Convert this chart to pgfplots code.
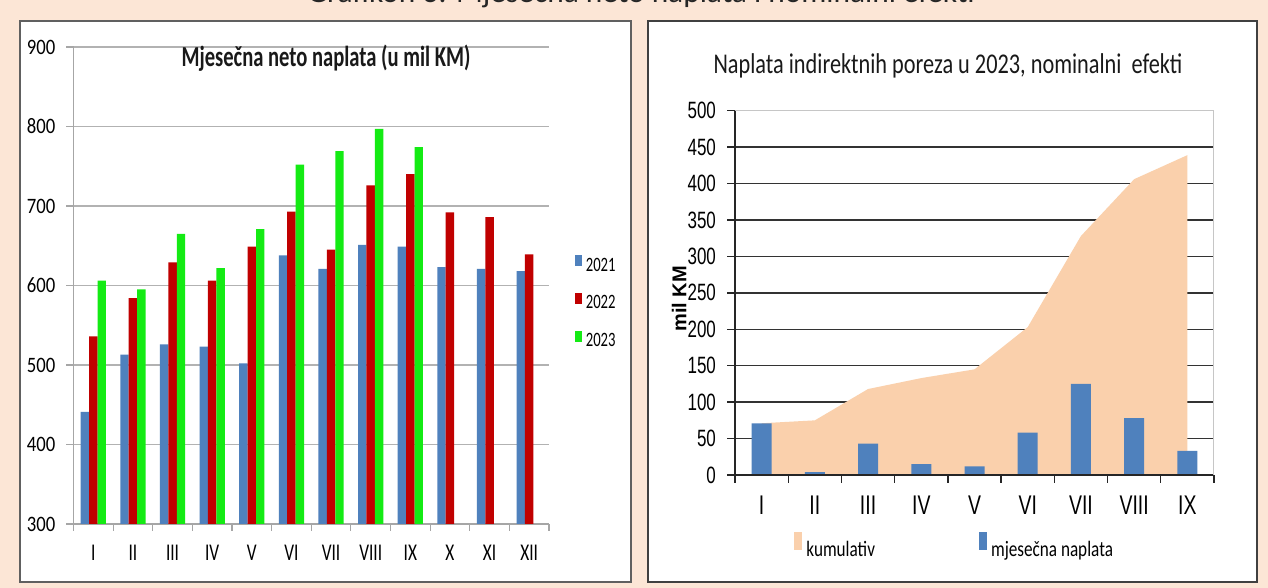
\documentclass[border=0pt]{standalone}
\usepackage{fontspec}
\usepackage{pgfplots}
\usepackage{pgfplotstable}
\pgfplotsset{compat=1.18}
\setmainfont{Carlito}
\newfontfamily\lfont[FakeStretch=0.85]{Carlito}
\newfontfamily\ltitle[FakeStretch=0.71]{Carlito}
\newfontfamily\lnarrow[FakeStretch=0.72]{Carlito}
\newfontfamily\rfont[FakeStretch=0.78]{Carlito}
\newfontfamily\rarial[FakeStretch=0.72]{Liberation Sans}
\newfontfamily\arialb{Liberation Sans}

\definecolor{bgpeach}{RGB}{252,230,214}
\definecolor{areapeach}{RGB}{250,208,172}
\definecolor{xlblue}{RGB}{79,129,189}
\definecolor{xlred}{RGB}{192,0,0}
\definecolor{xlgreen}{RGB}{20,235,20}

% monthly net collection, mil KM
\pgfplotstableread{
m y2021 y2022 y2023
1 441 536 606
2 513 584 595
3 526 629 665
4 523 606 622
5 502 649 671
6 638 693 752
7 621 645 769
8 651 726 797
9 649 740 774
10 623 692 nan
11 621 686 nan
12 618 639 nan
}\monthly

% 2023 nominal effects: monthly and cumulative
\pgfplotstableread{
m mon cum
1 71 71
2 4 75
3 43 118
4 15 133
5 12 145
6 58 203
7 125 328
8 78 406
9 33 439
}\indirect

\begin{document}
\begin{tikzpicture}
\useasboundingbox (0,0) rectangle (634pt,294pt);
\clip (0,0) rectangle (634pt,294pt);
\fill[bgpeach] (0,0) rectangle (634pt,294pt);
\node[anchor=base, font=\fontsize{15.7}{16}\selectfont, text=black!85] at (320.5pt,292.5pt)
  {Grafikon 3: Mjesečna neto naplata i nominalni efekti};

% panels
\filldraw[fill=white, draw=gray!75!black, line width=0.8pt] (10pt,3pt) rectangle (315.5pt,283.5pt);
\filldraw[fill=white, draw=black!75, line width=0.6pt] (324pt,3pt) rectangle (628.5pt,283.5pt);

% ---- left chart ----
\begin{axis}[
  at={(36.75pt,32pt)}, anchor=south west,
  scale only axis, width=237.75pt, height=238.5pt,
  xmin=0.5, xmax=12.5, ymin=300, ymax=900,
  ytick={300,400,...,900},
  xtick={0.5,1.5,...,12.5}, xticklabels={},
  extra x ticks={1,...,12},
  extra x tick labels={I,II,III,IV,V,VI,VII,VIII,IX,X,XI,XII},
  extra x tick style={major tick length=0pt,
    xticklabel style={anchor=base, yshift=-18.5pt}},
  axis x line*=bottom, axis y line*=left,
  axis line style={draw=gray!70, line width=0.6pt, -},
  tick align=outside, major tick length=3.5pt,
  xtick style={draw=gray!70, line width=0.6pt},
  ytick style={draw=gray!70, line width=0.6pt},
  ymajorgrids, grid style={draw=gray!60, line width=0.6pt},
  xticklabel style={font=\lnarrow\fontsize{12}{13}\selectfont},
  yticklabel style={font=\lfont\fontsize{11}{12}\selectfont, xshift=-2pt},
  /pgf/number format/assume math mode=true,
  ybar=0pt, bar width=4.2pt,
  legend style={at={(axis description cs:1,0.5)}, anchor=west,
    xshift=13pt, yshift=-8.5pt, draw=none, fill=none, inner sep=0pt,
    row sep=9.5pt, column sep=2pt,
    nodes={inner sep=0pt},
    font=\lnarrow\fontsize{10.2}{11}\selectfont},
  legend cell align=left,
]
\addplot[fill=xlblue, draw=none,
  legend image code/.code={\fill[xlblue] (0pt,0pt) rectangle (3.2pt,5.4pt);}]
  table[x=m, y=y2021]{\monthly};
\addplot[fill=xlred, draw=none,
  legend image code/.code={\fill[xlred] (0pt,0pt) rectangle (3.2pt,5.4pt);}]
  table[x=m, y=y2022]{\monthly};
\addplot[fill=xlgreen, draw=none,
  legend image code/.code={\fill[xlgreen] (0pt,0pt) rectangle (3.2pt,5.4pt);}]
  table[x=m, y=y2023]{\monthly};
\legend{2021,2022,2023}
\end{axis}
\node[anchor=base, font=\ltitle\bfseries\fontsize{14.5}{15}\selectfont, text=black!90] at (163pt,260.5pt)
  {Mjesečna neto naplata (u mil KM)};

% ---- right chart ----
\begin{axis}[
  at={(367.5pt,56.5pt)}, anchor=south west,
  scale only axis, width=239.5pt, height=182.15pt,
  xmin=0.5, xmax=9.5, ymin=0, ymax=500,
  ytick={0,50,...,450},
  extra y ticks={500},
  extra y tick style={grid style={draw=gray!45, line width=0.7pt}},
  xtick={0.5,1.5,...,9.5}, xticklabels={},
  extra x ticks={1,...,9},
  extra x tick labels={I,II,III,IV,V,VI,VII,VIII,IX},
  extra x tick style={major tick length=0pt,
    xticklabel style={anchor=base, yshift=-20pt}},
  axis x line*=bottom, axis y line*=left,
  axis line style={draw=black!85, line width=0.7pt, -},
  tick align=outside, major tick length=4pt,
  xtick style={draw=black!85, line width=0.7pt},
  ytick style={draw=black!85, line width=0.7pt},
  ymajorgrids, grid style={draw=black!80, line width=0.7pt},
  xticklabel style={font=\rarial\fontsize{13.5}{14}\selectfont},
  yticklabel style={font=\rarial\fontsize{11.8}{13}\selectfont, xshift=-2pt},
  /pgf/number format/assume math mode=true,
  legend style={at={(axis description cs:0,0)}, anchor=west,
    xshift=29.5pt, yshift=-35.5pt, draw=none, fill=none, inner sep=0pt,
    column sep=2pt, nodes={inner sep=0pt},
    /tikz/every even column/.append style={column sep=52pt},
    font=\rfont\fontsize{11}{12}\selectfont},
  legend columns=2, legend cell align=left,
]
\addplot[fill=areapeach, draw=none,
  legend image code/.code={\fill[areapeach] (0pt,0pt) rectangle (4pt,9pt);}]
  table[x=m, y=cum]{\indirect} \closedcycle;
\addplot[ybar, bar width=10pt, fill=xlblue, draw=none,
  legend image code/.code={\fill[xlblue] (0pt,0pt) rectangle (4pt,9pt);}]
  table[x=m, y=mon]{\indirect};
\legend{kumulativ,mjesečna naplata}
\draw[black!85, line width=0.7pt] (rel axis cs:0,0) -- (rel axis cs:1,0);
\draw[gray!45, line width=0.7pt] (rel axis cs:1,0) -- (rel axis cs:1,1);
\end{axis}
\node[anchor=base, font=\rfont\fontsize{14.3}{15}\selectfont, text=black!90] at (474pt,257.35pt)
  {Naplata indirektnih poreza u 2023, nominalni\ \ efekti};
\node[rotate=90, font=\arialb\bfseries\fontsize{10}{12}\selectfont] at (339.5pt,144.5pt) {mil KM};
\end{tikzpicture}
\end{document}
